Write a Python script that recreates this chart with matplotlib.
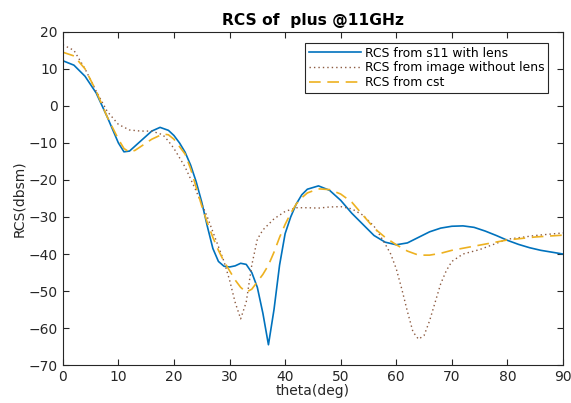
import numpy as np
import matplotlib.pyplot as plt

# theta (deg) and RCS (dBsm)
theta_s11 = [0, 2, 4, 6, 8, 10, 11, 12, 14, 16, 17.5, 19, 20, 21, 22, 23, 24, 25, 26, 27, 28,
             29, 30, 31, 32, 33, 34, 35, 36, 37, 38, 39, 40, 41, 42, 43, 44, 46, 48, 50,
             52, 54, 56, 58, 60, 62, 64, 66, 68, 70, 72, 74, 76, 78, 80, 82, 84, 86, 88, 90]
rcs_s11 = [12.2, 11, 8, 3.5, -3, -10, -12.4, -12.2, -9.5, -6.8, -5.8, -6.6, -8, -10, -12.5,
           -16, -20.5, -26, -32.5, -38.5, -42, -43.3, -43.5, -43.2, -42.5, -42.8, -45, -49,
           -56, -64.5, -55, -43, -34.5, -30, -26.5, -24, -22.5, -21.6, -22.8, -25.5, -29,
           -32, -35, -36.8, -37.5, -37, -35.5, -34, -33, -32.5, -32.4, -32.8, -33.8, -35,
           -36.3, -37.4, -38.3, -39, -39.5, -40]

theta_img = [0, 2, 4, 6, 8, 10, 12, 14, 16, 18, 19, 20, 21, 22, 24, 26, 28, 29, 30, 31,
             32, 33, 34, 35, 36, 37, 38, 40, 42, 44, 46, 48, 50, 52, 54, 56, 57, 58, 59,
             60, 61, 62, 63, 64, 65, 66, 67, 68, 69, 70, 72, 75, 80, 85, 90]
rcs_img = [16.5, 15, 10, 4, -1.5, -5, -6.5, -6.8, -6.8, -7.8, -9.5, -11.5, -14, -16.5,
           -23, -30, -38, -42, -47, -53, -57.5, -53, -43, -36, -33.5, -32, -30.5, -28.5,
           -27.5, -27.5, -27.6, -27.3, -27.2, -27.8, -29.5, -32.5, -34.8, -37.3, -40,
           -44, -49.5, -55.5, -61, -63, -62, -58, -53, -48, -44.5, -42, -40, -38.8,
           -36, -35, -34.3]

theta_cst = [0, 2, 4, 6, 8, 10, 11, 12, 13, 14, 16, 18, 19, 20, 22, 23, 24, 25, 26, 27,
             28, 29, 30, 31, 32, 33, 34, 35, 36, 37, 38, 39, 40, 41, 42, 43, 44, 46, 48,
             50, 52, 54, 56, 58, 60, 62, 64, 66, 68, 70, 75, 80, 85, 90]
rcs_cst = [14.5, 13.5, 10, 4, -3, -9, -11.5, -12.5, -12, -11, -9, -7.6, -7.8, -9, -13,
           -17, -22, -27, -31.5, -35.5, -39, -42, -44.5, -47, -49, -50.3, -49.5, -47.5,
           -45.5, -43, -39.5, -35.5, -32, -29, -26.5, -24.8, -23.5, -22.4, -22.6, -23.8,
           -26, -29.5, -33, -35.5, -37.5, -39.2, -40.3, -40.3, -39.8, -39, -37.6, -36.2,
           -35.4, -34.9]

fig, ax = plt.subplots(figsize=(5.71, 4.03), dpi=100)
fig.subplots_adjust(left=0.110, right=0.986, top=0.921, bottom=0.094)

ax.plot(theta_s11, rcs_s11, color='#0072BD', linewidth=1.2, label='RCS from s11 with lens')
ax.plot(theta_img, rcs_img, color='#8c5a40', linestyle=(0, (1, 2.2)), linewidth=1.0,
        label='RCS from image without lens')
ax.plot(theta_cst, rcs_cst, color='#EDB120', linestyle=(0, (7, 4)), linewidth=1.2,
        label='RCS from cst')

ax.set_xlim(0, 90)
ax.set_ylim(-70, 20)
ax.set_xticks(np.arange(0, 91, 10))
ax.set_yticks(np.arange(-70, 21, 10))
ax.tick_params(direction='in', top=True, right=True, labelsize=10, colors='#262626',
               length=4)
for s in ax.spines.values():
    s.set_color('#262626')
    s.set_linewidth(0.8)

ax.set_xlabel('theta(deg)', fontsize=10, color='#262626', labelpad=0)
ax.set_ylabel('RCS(dbsm)', fontsize=10, color='#262626', labelpad=2)
ax.set_title('RCS of  plus @11GHz', fontsize=11.2, fontweight='bold', pad=5)

lgnd = ax.legend(loc='upper right', fontsize=8.9, handlelength=4.2, fancybox=False,
                 framealpha=1, edgecolor='#262626', borderpad=0.3, labelspacing=0.15,
                 handletextpad=0.3, borderaxespad=0, bbox_to_anchor=(0.97, 0.967))
lgnd.get_frame().set_linewidth(0.8)

fig.savefig('out.png', dpi=100)
